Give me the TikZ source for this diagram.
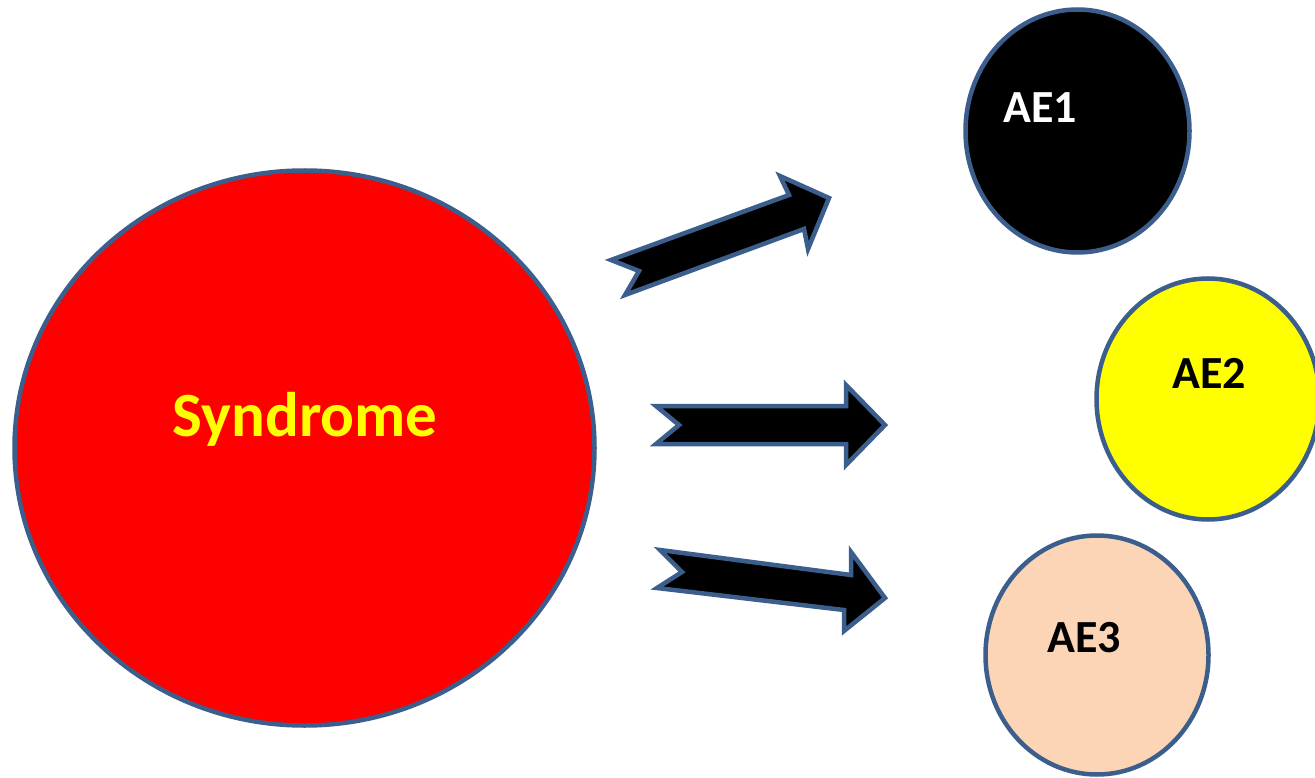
\documentclass[tikz,border=0pt]{standalone}
\usepackage{fontspec}
\setmainfont{Carlito}
\usetikzlibrary{shapes.geometric}
\definecolor{edgeblue}{RGB}{59,94,140}
\definecolor{peach}{RGB}{251,213,181}
\definecolor{pureyellow}{RGB}{255,255,0}
\definecolor{purered}{RGB}{255,0,0}
\tikzset{
  blob/.style={ellipse, draw=edgeblue, line width=4.5pt, inner sep=0pt},
  arrowshape/.style={draw=edgeblue, fill=black, line width=4.5pt, line join=miter},
  lbl/.style={anchor=base, inner sep=0pt, font=\bfseries\fontsize{46}{50}\selectfont}
}
\begin{document}
\begin{tikzpicture}[x=1pt,y=-1pt]
\useasboundingbox (0,0) rectangle (1315,778);
\clip (0,0) rectangle (1315,778);
% circles
\node[blob, fill=purered, minimum width=580pt, minimum height=555pt] (syn) at (304.5,448) {};
\node[blob, fill=black, minimum width=224pt, minimum height=243pt] (ae1) at (1077.5,131) {};
\node[blob, fill=pureyellow, minimum width=223pt, minimum height=241pt] (ae2) at (1208,399) {};
\node[blob, fill=peach, minimum width=223pt, minimum height=239pt] (ae3) at (1097,655) {};
% labels
\node[lbl, text=pureyellow, font=\bfseries\fontsize{63}{68}\selectfont] (synl) at (305,436) {Syndrome};
\node[lbl, text=white] (ae1l) at (1040,123) {AE1};
\node[lbl, text=black] (ae2l) at (1209,388) {AE2};
\node[lbl, text=black] (ae3l) at (1084,652) {AE3};
% arrows
\draw[arrowshape] (611,260) -- (639,271) -- (625,295) -- (804,229) -- (808,249) -- (829,198) -- (780,176) -- (789,195) -- cycle;
\draw[arrowshape] (656,406) -- (679,425) -- (656,444) -- (846,444) -- (846,465) -- (885,425) -- (846,385) -- (846,406) -- cycle;
\draw[arrowshape] (660,550) -- (682,572) -- (657,588) -- (844,610) -- (844,631) -- (885,598) -- (851,552) -- (851,575) -- cycle;
\end{tikzpicture}
\end{document}
